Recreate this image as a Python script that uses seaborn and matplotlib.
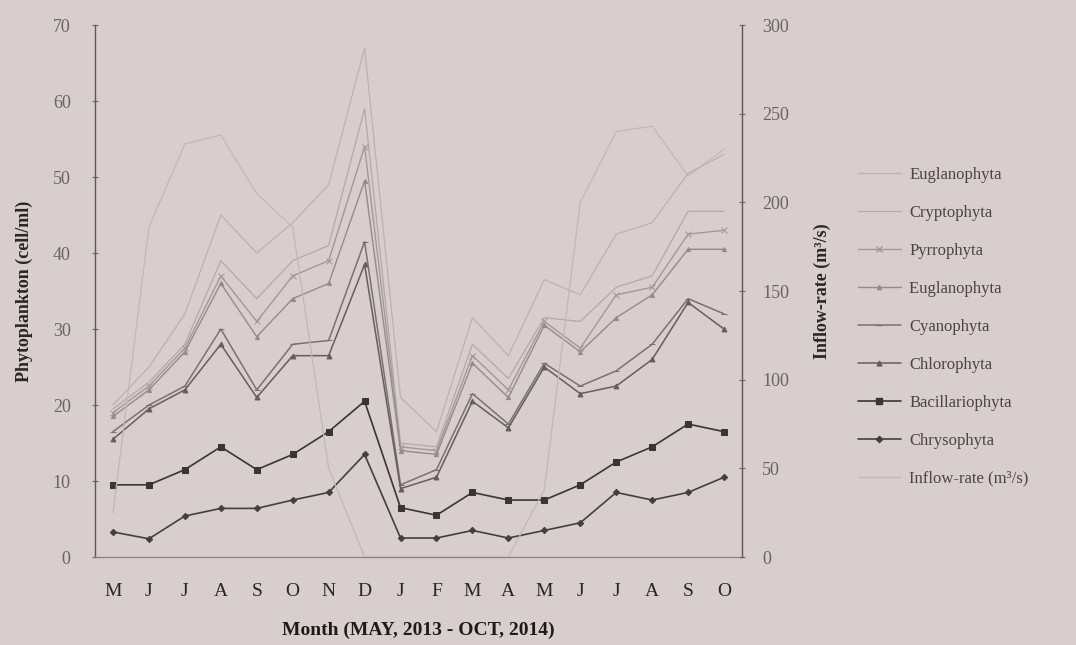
import numpy as np
import pandas as pd
import matplotlib
matplotlib.use("Agg")
import matplotlib.pyplot as plt
import seaborn as sns
from matplotlib.lines import Line2D

months = ["M", "J", "J", "A", "S", "O", "N", "D", "J", "F", "M", "A", "M", "J", "J", "A", "S", "O"]

euglano_top = [20, 25, 32, 45, 40, 44, 49, 67, 21, 16.5, 31.5, 26.5, 36.5, 34.5, 42.5, 44, 50.5, 53]
cryptophyta = [19.5, 23, 28, 39, 34, 39, 41, 59, 15, 14.5, 28, 23.5, 31.5, 31, 35.5, 37, 45.5, 45.5]
pyrrophyta = [19, 22.5, 27.5, 37, 31, 37, 39, 54, 14.5, 14, 26.5, 22, 31, 27.5, 34.5, 35.5, 42.5, 43]
euglano_2 = [18.5, 22, 27, 36, 29, 34, 36, 49.5, 14, 13.5, 25.5, 21, 30.5, 27, 31.5, 34.5, 40.5, 40.5]
cyanophyta = [16.5, 20, 22.5, 30, 22, 28, 28.5, 41.5, 9.5, 11.5, 21.5, 17.5, 25.5, 22.5, 24.5, 28, 34, 32]
chlorophyta = [15.5, 19.5, 22, 28, 21, 26.5, 26.5, 38.5, 9, 10.5, 20.5, 17, 25, 21.5, 22.5, 26, 33.5, 30]
bacillariophyta = [9.5, 9.5, 11.5, 14.5, 11.5, 13.5, 16.5, 20.5, 6.5, 5.5, 8.5, 7.5, 7.5, 9.5, 12.5, 14.5, 17.5, 16.5]
chrysophyta = [3.3, 2.4, 5.4, 6.4, 6.4, 7.5, 8.5, 13.5, 2.5, 2.5, 3.5, 2.5, 3.5, 4.5, 8.5, 7.5, 8.5, 10.5]
inflow = [25, 186, 233, 238, 205, 186, 50, 0, 0, 0, 0, 0, 38, 200, 240, 243, 215, 230]

series = [
    ("Euglanophyta", euglano_top, "#bcb2b1", None, 4, 0.9),
    ("Cryptophyta", cryptophyta, "#b3a9a8", None, 4, 0.9),
    ("Pyrrophyta", pyrrophyta, "#a39998", "x", 4, 1.0),
    ("Euglanophyta ", euglano_2, "#958b8a", "^", 3, 1.0),
    ("Cyanophyta", cyanophyta, "#7a7171", "_", 5, 1.1),
    ("Chlorophyta", chlorophyta, "#665e5e", "^", 3.5, 1.1),
    ("Bacillariophyta", bacillariophyta, "#3a3535", "s", 4.5, 1.2),
    ("Chrysophyta", chrysophyta, "#443f3f", "D", 3.2, 1.2),
]

sns.set_theme(style="white")
plt.rcParams["font.family"] = ["Liberation Serif", "DejaVu Serif"]

bg = "#d7cecd"
fig = plt.figure(figsize=(10.76, 6.45), dpi=100, facecolor=bg)
ax = fig.add_axes([0.0883, 0.1364, 0.6013, 0.8246])
ax.set_facecolor(bg)

x = np.arange(len(months))
handles = []
for name, vals, col, mk, ms, lw in series:
    df = pd.DataFrame({"x": x, "y": vals})
    sns.lineplot(data=df, x="x", y="y", ax=ax, color=col, linewidth=lw,
                 marker=mk if mk else None, markersize=ms,
                 markeredgecolor=col, markerfacecolor=col, legend=False)
    handles.append(Line2D([0], [0], color=col, lw=lw, marker=mk if mk else None,
                          markersize=ms, markeredgecolor=col, markerfacecolor=col))

ax.set_xlim(-0.47, 17.42)
ax.set_ylim(0, 70)
ax.set_yticks(range(0, 71, 10))
ax.set_xticks(x)
ax.set_xticklabels(months)
ax.set_xticks(np.arange(-0.5, 17.6, 1), minor=True)
ax.tick_params(axis="x", which="major", length=0, pad=19, labelsize=14, labelcolor="#2a2626")
ax.tick_params(axis="x", which="minor", length=4, direction="inout", color="#8a8282", width=0.8)
ax.tick_params(axis="y", length=5, direction="inout", color="#6f6868", width=0.8,
               labelsize=13, labelcolor="#6a6363", pad=15)
ax.set_xlabel("Month (MAY, 2013 - OCT, 2014)", fontsize=14, fontweight="bold",
              color="#1e1a1a", labelpad=15)
ax.set_ylabel("Phytoplankton (cell/ml)", fontsize=13, fontweight="bold",
              color="#2a2525", labelpad=14)
for s in ["top", "right"]:
    ax.spines[s].set_visible(False)
ax.spines["left"].set_color("#5f5858")
ax.spines["left"].set_linewidth(1.0)
ax.spines["bottom"].set_color("#8a8282")
ax.spines["bottom"].set_linewidth(0.9)

ax2 = ax.twinx()
df_in = pd.DataFrame({"x": x, "y": inflow})
sns.lineplot(data=df_in, x="x", y="y", ax=ax2, color="#c2b8b7", linewidth=0.9, legend=False)
handles.append(Line2D([0], [0], color="#c2b8b7", lw=0.9))
ax2.set_ylim(0, 300)
ax2.set_yticks(range(0, 301, 50))
ax2.tick_params(axis="y", length=5, direction="inout", color="#6f6868", width=0.8,
                labelsize=13, labelcolor="#6a6363", pad=12)
ax2.set_ylabel("Inflow-rate (m³/s)", fontsize=13, fontweight="bold", color="#2a2525",
               labelpad=18)
ax2.set_xlabel("")
for s in ["top", "left", "bottom"]:
    ax2.spines[s].set_visible(False)
ax2.spines["right"].set_color("#5f5858")
ax2.spines["right"].set_linewidth(1.0)

labels = [s[0] for s in series] + ["Inflow-rate (m³/s)"]
fig.legend(handles, labels, loc="upper left", bbox_to_anchor=(0.783, 0.765),
           frameon=False, fontsize=12, labelspacing=1.32, handlelength=2.6,
           handletextpad=0.5, labelcolor="#4a4444")

fig.savefig("out.png", dpi=100, facecolor=bg)
